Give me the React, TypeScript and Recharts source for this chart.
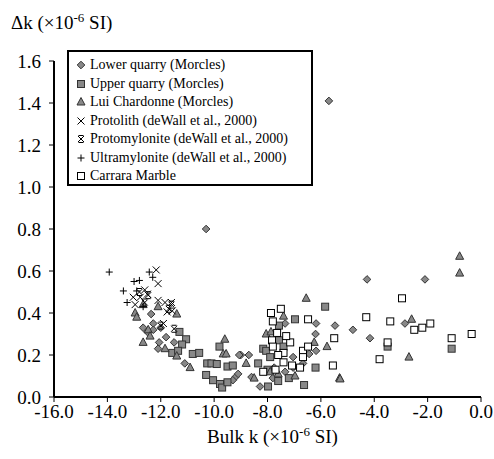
import React from "react";
import {
  ScatterChart,
  Scatter,
  XAxis,
  YAxis,
  Legend,
} from "recharts";

// [bulk k, delta k] pairs
const lowerQuarry = [
  [-5.7, 1.41], [-10.3, 0.8], [-4.27, 0.56], [-2.1, 0.56], [-2.85, 0.35], [-4.8, 0.32],
  [-4.16, 0.28], [-7.34, 0.35], [-6.18, 0.35], [-5.47, 0.34], [-6.2, 0.3], [-6.18, 0.22],
  [-6.44, 0.205], [-9.0, 0.2], [-8.7, 0.2], [-7.04, 0.19], [-7.04, 0.14], [-6.67, 0.16],
  [-7.75, 0.14], [-8.6, 0.095], [-7.8, 0.09], [-7.34, 0.12], [-8.28, 0.05], [-12.36, 0.395],
  [-12.28, 0.35], [-12.66, 0.33], [-12.5, 0.31], [-12.28, 0.32], [-12.0, 0.33], [-12.06, 0.26],
  [-11.8, 0.285], [-11.5, 0.26], [-12.1, 0.23], [-11.1, 0.16], [-9.2, 0.095], [-9.1, 0.11],
  [-9.06, 0.2], [-9.3, 0.08],
];
const upperQuarry = [
  [-5.84, 0.43], [-7.57, 0.34], [-6.97, 0.37], [-7.57, 0.27], [-8.16, 0.23], [-8.05, 0.22],
  [-7.9, 0.19], [-8.35, 0.16], [-6.2, 0.14], [-8.0, 0.13], [-7.6, 0.076], [-7.98, 0.05],
  [-6.63, 0.057], [-3.5, 0.24], [-1.1, 0.23], [-11.3, 0.31], [-11.05, 0.275], [-11.2, 0.25],
  [-11.57, 0.21], [-11.35, 0.22], [-10.8, 0.205], [-10.56, 0.21], [-9.8, 0.24], [-10.26, 0.16],
  [-10.1, 0.16], [-9.9, 0.157], [-9.5, 0.145], [-9.3, 0.15], [-10.3, 0.105], [-10.04, 0.08],
  [-9.78, 0.062], [-9.7, 0.045], [-9.5, 0.07], [-7.2, 0.09], [-7.4, 0.24],
];
const luiChardonne = [
  [-0.8, 0.67], [-0.8, 0.59], [-6.55, 0.47], [-7.4, 0.385], [-2.6, 0.37], [-2.7, 0.19],
  [-5.3, 0.09], [-8.05, 0.3], [-7.87, 0.31], [-6.25, 0.26], [-5.77, 0.24], [-8.8, 0.16],
  [-7.9, 0.12], [-8.5, 0.09], [-6.97, 0.1], [-5.28, 0.086], [-12.66, 0.44], [-12.96, 0.4],
  [-12.9, 0.38], [-12.1, 0.43], [-11.4, 0.395], [-12.47, 0.32], [-12.4, 0.29], [-12.66, 0.26],
  [-11.84, 0.23], [-11.4, 0.195], [-10.9, 0.14], [-9.6, 0.275], [-9.66, 0.205], [-9.55, 0.205],
  [-7.6, 0.11],
];
const protolith = [
  [-12.17, 0.605], [-12.1, 0.54], [-12.6, 0.51], [-12.5, 0.49], [-12.77, 0.475], [-13.03, 0.475],
  [-12.96, 0.44], [-12.1, 0.46], [-11.84, 0.45], [-11.6, 0.45], [-11.76, 0.405], [-11.57, 0.41],
  [-11.9, 0.35],
];
const protomylonite = [
  [-12.47, 0.485], [-12.6, 0.45], [-11.5, 0.325], [-12.0, 0.34], [-11.7, 0.42], [-12.8, 0.5],
  [-11.6, 0.44],
];
const ultramylonite = [
  [-13.93, 0.595], [-12.43, 0.595], [-12.3, 0.57], [-13.0, 0.55], [-12.8, 0.555], [-13.4, 0.505],
  [-12.9, 0.505], [-13.26, 0.45], [-12.66, 0.43],
];
const carrara = [
  [-7.87, 0.4], [-7.5, 0.42], [-7.8, 0.36], [-6.48, 0.37], [-5.5, 0.28], [-7.64, 0.305],
  [-7.83, 0.27], [-7.15, 0.26], [-7.8, 0.24], [-7.4, 0.21], [-7.6, 0.2], [-6.67, 0.22],
  [-6.67, 0.19], [-6.48, 0.24], [-7.4, 0.165], [-7.08, 0.15], [-6.78, 0.14], [-5.55, 0.15],
  [-7.7, 0.13], [-8.16, 0.12], [-2.96, 0.47], [-4.3, 0.38], [-3.4, 0.36], [-2.5, 0.32],
  [-2.2, 0.33], [-1.9, 0.35], [-3.5, 0.26], [-3.8, 0.18], [-1.1, 0.28], [-0.35, 0.3],
  [-7.3, 0.29],
];

const xTicks = [-16, -14, -12, -10, -8, -6, -4, -2, 0];
const yTicks = [0, 0.2, 0.4, 0.6, 0.8, 1.0, 1.2, 1.4, 1.6];

const FONT = "'Liberation Serif', 'Times New Roman', serif";
const GRAY = "#888";
const EDGE = "#333";

const toPts = (arr: number[][]) => arr.map(([x, y]) => ({ x, y }));

type Kind = "diamond" | "square" | "triangle" | "cross" | "star" | "plus" | "open";

function Marker({ kind, cx, cy }: { kind: Kind; cx: number; cy: number }) {
  switch (kind) {
    case "diamond":
      return (
        <polygon
          points={`${cx},${cy - 3.8} ${cx + 3.8},${cy} ${cx},${cy + 3.8} ${cx - 3.8},${cy}`}
          fill={GRAY}
          stroke={EDGE}
        />
      );
    case "square":
      return <rect x={cx - 3.5} y={cy - 3.5} width={7} height={7} fill={GRAY} stroke={EDGE} />;
    case "open":
      return <rect x={cx - 3.5} y={cy - 3.5} width={7} height={7} fill="#fff" stroke="#000" />;
    case "triangle":
      return (
        <polygon
          points={`${cx},${cy - 4.5} ${cx + 4},${cy + 3} ${cx - 4},${cy + 3}`}
          fill={GRAY}
          stroke={EDGE}
        />
      );
    case "cross":
      return (
        <path
          d={`M${cx - 3.5},${cy - 3.5}L${cx + 3.5},${cy + 3.5}M${cx - 3.5},${cy + 3.5}L${cx + 3.5},${cy - 3.5}`}
          stroke="#000"
        />
      );
    case "star":
      return (
        <path
          d={`M${cx - 3},${cy - 3}L${cx + 3},${cy + 3}M${cx - 3},${cy + 3}L${cx + 3},${cy - 3}M${cx - 2.5},${cy - 3.5}L${cx + 2.5},${cy - 3.5}M${cx - 2.5},${cy + 3.5}L${cx + 2.5},${cy + 3.5}`}
          stroke="#000"
        />
      );
    case "plus":
      return (
        <path d={`M${cx - 3.5},${cy}L${cx + 3.5},${cy}M${cx},${cy - 3.5}L${cx},${cy + 3.5}`} stroke="#000" />
      );
  }
  return null;
}

const series: { name: string; data: number[][]; kind: Kind }[] = [
  { name: "Lower quarry (Morcles)", data: lowerQuarry, kind: "diamond" },
  { name: "Upper quarry (Morcles)", data: upperQuarry, kind: "square" },
  { name: "Lui Chardonne (Morcles)", data: luiChardonne, kind: "triangle" },
  { name: "Protolith (deWall et al., 2000)", data: protolith, kind: "cross" },
  { name: "Protomylonite (deWall et al., 2000)", data: protomylonite, kind: "star" },
  { name: "Ultramylonite (deWall et al., 2000)", data: ultramylonite, kind: "plus" },
  { name: "Carrara Marble", data: carrara, kind: "open" },
];

function LegendBox() {
  return (
    <div
      style={{
        border: "2px solid #000",
        background: "#fff",
        boxSizing: "border-box",
        width: 246,
        height: 136,
        padding: "4px 0 0 6px",
        fontFamily: FONT,
        fontSize: 14,
        color: "#000",
      }}
    >
      {series.map((s) => (
        <div key={s.name} style={{ height: 18.5, display: "flex", alignItems: "center", whiteSpace: "nowrap" }}>
          <svg width={12} height={12} style={{ marginRight: 3 }}>
            <Marker kind={s.kind} cx={6} cy={6} />
          </svg>
          <span>{s.name}</span>
        </div>
      ))}
    </div>
  );
}

export default function App() {
  return (
    <div style={{ position: "absolute", left: 0, top: 0, width: 494, height: 459, background: "#fff" }}>
      <ScatterChart width={494} height={459} margin={{ top: 61, right: 13, bottom: 32, left: 0 }}>
        <XAxis
          type="number"
          dataKey="x"
          domain={[-16, 0]}
          ticks={xTicks}
          tickFormatter={(v: number) => v.toFixed(1)}
          tick={{ fontFamily: FONT, fontSize: 19, fill: "#000" }}
          axisLine={{ stroke: "#000", strokeWidth: 2 }}
          tickLine={{ stroke: "#000" }}
          tickSize={5}
          tickMargin={3}
          height={30}
          allowDataOverflow
        />
        <YAxis
          type="number"
          dataKey="y"
          domain={[0, 1.6]}
          ticks={yTicks}
          tickFormatter={(v: number) => v.toFixed(1)}
          tick={{ fontFamily: FONT, fontSize: 19, fill: "#000" }}
          axisLine={{ stroke: "#000", strokeWidth: 2 }}
          tickLine={{ stroke: "#000" }}
          tickSize={5}
          tickMargin={8}
          width={54}
          allowDataOverflow
        />
        <Legend
          layout="vertical"
          align="center"
          verticalAlign="middle"
          content={() => <LegendBox />}
          wrapperStyle={{ position: "absolute", left: 67, top: 50, width: 246, height: 136 }}
        />
        {series.map((s) => (
          <Scatter
            key={s.name}
            name={s.name}
            data={toPts(s.data)}
            isAnimationActive={false}
            shape={(p: any) => <Marker kind={s.kind} cx={p.cx} cy={p.cy} />}
          />
        ))}
      </ScatterChart>
      <div
        style={{ position: "absolute", left: 11, top: 10, fontFamily: FONT, fontSize: 19, whiteSpace: "nowrap" }}
      >
        Δk (×10<sup style={{ fontSize: 13 }}>-6</sup> SI)
      </div>
      <div
        style={{
          position: "absolute",
          left: 0,
          width: 545,
          top: 424,
          textAlign: "center",
          fontFamily: FONT,
          fontSize: 19,
          whiteSpace: "nowrap",
        }}
      >
        Bulk k (×10<sup style={{ fontSize: 13 }}>-6</sup> SI)
      </div>
    </div>
  );
}
